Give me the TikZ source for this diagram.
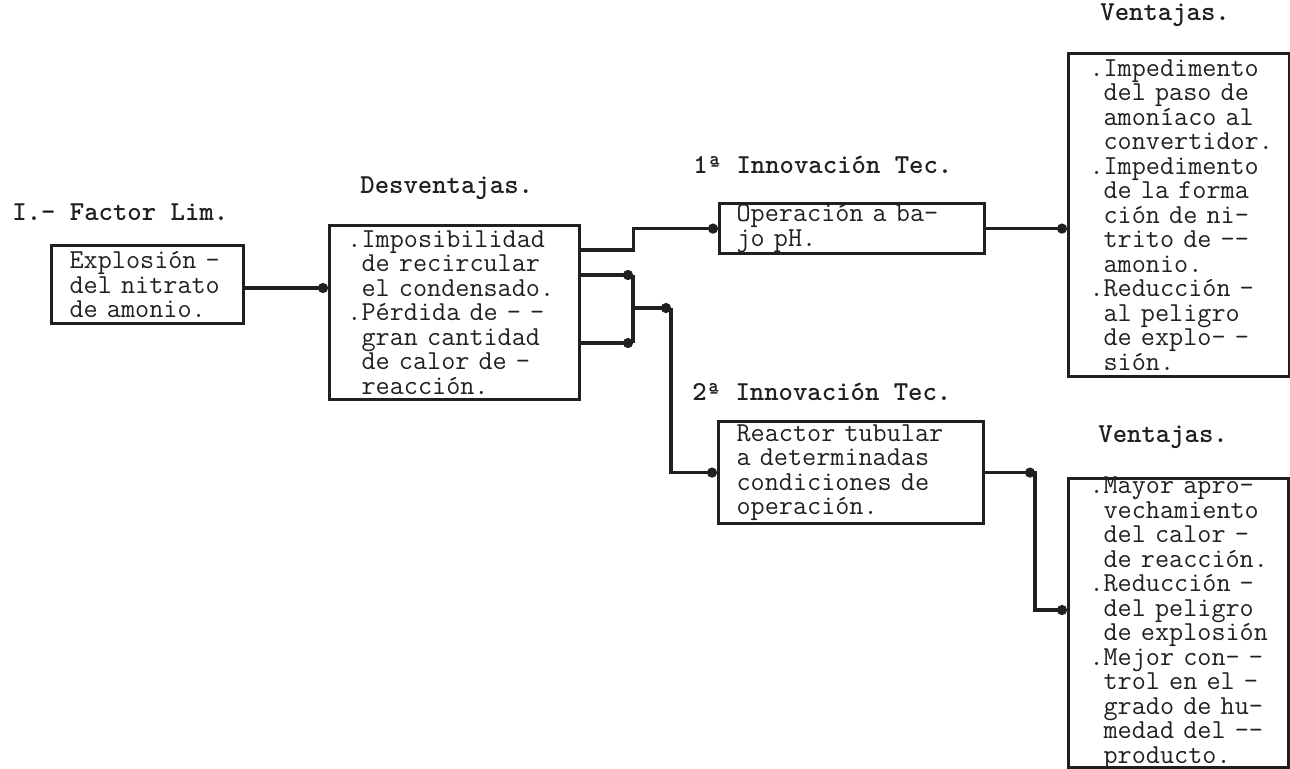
\documentclass[tikz,border=0pt]{standalone}
\usetikzlibrary{arrows.meta}
\definecolor{ink}{HTML}{202020}
\newcommand{\typer}{\ttfamily\fontsize{13.7}{12.25}\selectfont}
\newcommand{\typerb}{\ttfamily\bfseries\fontsize{13.7}{12.25}\selectfont}
\newcommand{\bul}{\leavevmode\llap{.}}

\begin{document}
\begin{tikzpicture}[x=0.5pt, y=-0.5pt,
  box/.style={draw=ink, line width=1.6pt, anchor=north west, inner sep=0pt, align=left, text=ink, font=\typer},
  link/.style={draw=ink, line width=1.6pt, -{Circle[length=5pt]}},
  wire/.style={draw=ink, line width=1.6pt},
  head/.style={anchor=west, inner sep=0pt, text=ink, font=\typerb}]
\useasboundingbox (0,0) rectangle (1290,768);

\node [head] (limt)   at (12,212)  {I.- Factor Lim.};
\node [head] (desvt)  at (360,188) {Desventajas.};
\node [head] (inn1t)  at (693,165) {1ª Innovación Tec.};
\node [head] (inn2t)  at (692,392) {2ª Innovación Tec.};
\node [head] (vent1t) at (1100,15) {Ventajas.};
\node [head] (vent2t) at (1098,437) {Ventajas.};

\node [box, text width=96pt, minimum height=39pt] (expl) at (50,244)
  {\leftskip=9pt\relax Explosión -\\del nitrato\\de amonio.\par};
\node [box, text width=125pt, minimum height=87pt] (desv) at (328,224)
  {\leftskip=16pt\relax \bul Imposibilidad\\de recircular\\el condensado.\\\bul Pérdida de - -\\gran cantidad\\de calor de -\\reacción.\par};
\node [box, text width=132.5pt, minimum height=25pt] (oper) at (718,202)
  {\leftskip=8.5pt\relax Operación a ba-\\jo pH.\par};
\node [box, text width=132.5pt, minimum height=51pt] (reac) at (717,420)
  {\leftskip=9pt\relax Reactor tubular\\a determinadas\\condiciones de\\operación.\par};
\node [box, text width=110.5pt, minimum height=161.5pt] (vent1) at (1067,52)
  {\leftskip=17.5pt\relax \bul Impedimento\\del paso de\\amoníaco al\\convertidor.\\\bul Impedimento\\de la forma\\ción de ni-\\trito de -{}-\\amonio.\\\bul Reducción -\\al peligro\\de explo- -\\sión.\par};
\node [box, text width=110pt, minimum height=144.5pt, inner ysep=-2pt] (vent2) at (1067,477)
  {\leftskip=17.5pt\relax \bul Mayor apro-\\vechamiento\\del calor -\\de reacción.\\\bul Reducción -\\del peligro\\de explosión\\\bul Mejor con- -\\trol en el -\\grado de hu-\\medad del -{}-\\producto.\par};

\coordinate (fork) at (633,308);
\coordinate (bend) at (671,308);
\coordinate (drop) at (1035,471);

\draw [link] (expl.east |- 0,288) -- (desv.west |- 0,288);
\draw [link] (desv.east |- 0,250) -- ++(52,0) |- (oper.west);
\draw [link] (desv.east |- 0,275) -- (fork |- 0,275);
\draw [link] (desv.east |- 0,343) -- (fork |- 0,343);
\draw [wire] (fork |- 0,275) -- (fork |- 0,343);
\draw [link] (fork) -- (bend);
\draw [link] (bend) |- (reac.west);
\draw [link] (oper.east) -- (oper.east -| vent1.west);
\draw [link] (reac.east) -- (reac.east -| drop);
\draw [link] (drop) |- (vent2.west |- 0,610);
\end{tikzpicture}
\end{document}
